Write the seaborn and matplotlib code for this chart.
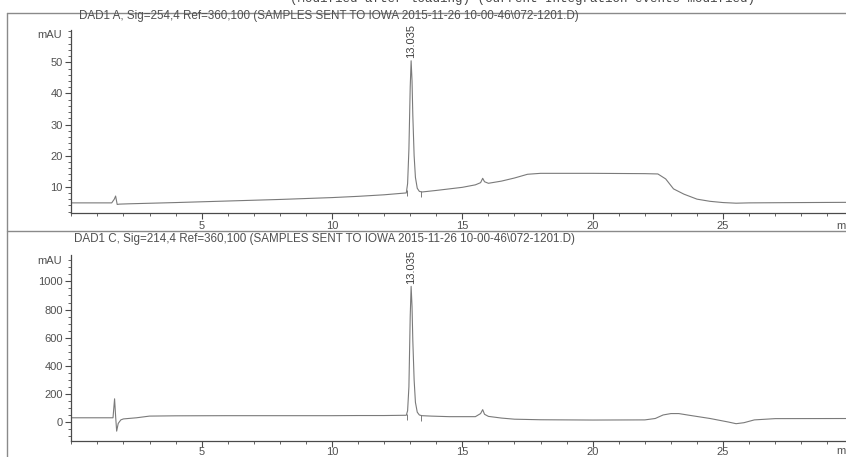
import numpy as np
import pandas as pd
import matplotlib
matplotlib.use("Agg")
import matplotlib.pyplot as plt
from matplotlib.lines import Line2D
from matplotlib.ticker import MultipleLocator
import seaborn as sns

# ---------------- data ----------------
header_text = "(Modified after loading) (Current Integration events modified)"
title_a = "DAD1 A, Sig=254,4 Ref=360,100 (SAMPLES SENT TO IOWA 2015-11-26 10-00-46\\072-1201.D)"
title_c = "DAD1 C, Sig=214,4 Ref=360,100 (SAMPLES SENT TO IOWA 2015-11-26 10-00-46\\072-1201.D)"
peak_label = "13.035"
peak_time = 13.035

x_tick_labels = [5, 10, 15, 20, 25]
y_ticks_a = [10, 20, 30, 40, 50]
y_ticks_c = [0, 200, 400, 600, 800, 1000]

time_a = [0, 1.55, 1.65, 1.70, 1.76, 1.85, 2.2, 4, 6, 8, 10, 11, 12, 12.85,
          12.9, 12.95, 13.0, 13.035, 13.07, 13.1, 13.15, 13.2, 13.27, 13.35, 13.45,
          14, 14.5, 15, 15.5, 15.7, 15.78, 15.85, 16.0, 16.5, 17, 17.5, 18, 20, 22,
          22.5, 22.8, 23.1, 23.5, 24, 24.5, 25, 25.5, 26, 28, 30.5]
signal_a = [4.8, 4.8, 6.0, 7.0, 4.3, 4.4, 4.5, 4.9, 5.4, 5.9, 6.5, 6.9, 7.4, 8.0,
            11, 22, 42, 50.5, 44, 33, 20, 13, 9.5, 8.5, 8.3,
            8.8, 9.3, 9.8, 10.6, 11.3, 12.7, 11.6, 11.1, 11.8, 12.8, 14.0, 14.3, 14.3, 14.2,
            14.1, 12.5, 9.3, 7.6, 6.0, 5.3, 4.9, 4.7, 4.8, 4.9, 5.0]

time_c = [0, 1.6, 1.66, 1.70, 1.74, 1.8, 1.9, 2.0, 2.5, 3.0, 4, 6, 8, 10, 11, 12,
          12.85, 12.9, 12.95, 13.0, 13.035, 13.07, 13.1, 13.15, 13.2, 13.27, 13.35, 13.45,
          13.8, 14.5, 15.5, 15.7, 15.78, 15.85, 16.0, 16.5, 17, 18, 20, 22,
          22.4, 22.7, 23.0, 23.3, 23.7, 24.5, 25.2, 25.5, 25.8, 26.2, 27, 30.5]
signal_c = [30, 30, 165, 40, -65, -10, 15, 22, 30, 42, 44, 45, 45, 45, 46, 46,
            48, 80, 250, 750, 965, 820, 580, 300, 140, 70, 50, 45,
            42, 38, 38, 60, 88, 55, 40, 28, 20, 16, 14, 15,
            25, 50, 60, 60, 48, 25, 0, -12, -5, 15, 24, 25]

integ_times = [12.86, 13.42]

# ---------------- styling ----------------
sns.set_theme(style="ticks")
plt.rcParams['font.family'] = ['Liberation Sans', 'DejaVu Sans']

W, H = 846, 457
fig = plt.figure(figsize=(W / 100, H / 100), dpi=100)
fig.patch.set_facecolor('white')

px_per_min = 26.07
x0_px = 71.3
xmax = 30.5
ax_w = xmax * px_per_min / W

line_col = '#7a7a7a'
axis_col = '#4a4a4a'
text_col = '#505050'


def make_panel(top_px, bot_px, ylim, time, sig, yticks, minor, title, title_x, title_y,
               label_top_frac, xpad):
    ax = fig.add_axes([x0_px / W, 1 - bot_px / H, ax_w, (bot_px - top_px) / H])
    df = pd.DataFrame({"t": time, "v": sig})
    sns.lineplot(data=df, x="t", y="v", ax=ax, color=line_col, lw=0.8,
                 estimator=None, sort=False)
    ax.set_xlim(0, xmax)
    ax.set_ylim(*ylim)
    ax.set_xlabel("")
    ax.set_ylabel("")
    for s in ("top", "right"):
        ax.spines[s].set_visible(False)
    for s in ("left", "bottom"):
        ax.spines[s].set_color(axis_col)
        ax.spines[s].set_linewidth(0.9)
    ax.xaxis.set_minor_locator(MultipleLocator(1))
    ax.yaxis.set_minor_locator(MultipleLocator(minor))
    ax.tick_params(axis='both', which='major', direction='out', length=4, width=0.8,
                   color=axis_col, labelcolor=text_col, labelsize=8, pad=2)
    ax.tick_params(axis='x', which='major', pad=xpad)
    ax.tick_params(axis='both', which='minor', direction='out', length=2.5, width=0.6,
                   color=axis_col)
    ax.set_xticks(x_tick_labels)
    ax.set_xticklabels([str(t) for t in x_tick_labels])
    ax.set_yticks(yticks)
    ax.set_yticklabels([str(v) for v in yticks])
    ax.patch.set_alpha(0)
    # mAU label at top of the axis
    ax.text(-0.012, label_top_frac, "mAU", transform=ax.transAxes, ha='right', va='center',
            fontsize=8, color=text_col)
    # integration markers
    iy = np.interp(integ_times, time, sig)
    off = (ylim[1] - ylim[0]) * 0.012
    ax.plot(integ_times, iy - off, ls='none', marker='|', ms=5, mew=0.7, color=line_col)
    # peak label above the apex
    ytop = np.interp(peak_time, time, sig)
    ax.annotate(peak_label, (peak_time, ytop), xytext=(0, 2), textcoords='offset points',
                rotation=90, ha='center', va='bottom', fontsize=8, color='#404040')
    fig.text(title_x / W, 1 - title_y / H, title, ha='left', va='center', fontsize=8.4,
             color=text_col)
    return ax


ax1 = make_panel(30, 212.7, (1.64, 60.4), time_a, signal_a, y_ticks_a, 2, title_a, 79, 16,
                 0.97, 2)
ax2 = make_panel(255, 440.7, (-133, 1188), time_c, signal_c, y_ticks_c, 50, title_c, 74, 239,
                 0.965, 0.8)

# "min" unit labels at right end of x axes (cut by figure edge)
fig.text(836 / W, 1 - 226 / H, "min", ha='left', va='center', fontsize=8, color=text_col)
fig.text(836 / W, 1 - 451 / H, "min", ha='left', va='center', fontsize=8, color=text_col)

# report frame lines
frame_col = '#8a8a8a'
fig.add_artist(Line2D([7 / W, 7 / W], [0, 1 - 13 / H], transform=fig.transFigure,
                      color=frame_col, lw=1.0))
fig.add_artist(Line2D([7 / W, 1], [1 - 13 / H, 1 - 13 / H], transform=fig.transFigure,
                      color=frame_col, lw=1.0))
fig.add_artist(Line2D([7 / W, 1], [1 - 231 / H, 1 - 231 / H], transform=fig.transFigure,
                      color=frame_col, lw=1.0))

# header line partially cut at top
fig.text(290 / W, 1 + 1.0 / H, header_text, ha='left', va='center', fontsize=9,
         family=['Liberation Mono', 'DejaVu Sans Mono'], color='#444444')

fig.savefig("out.png", dpi=100, facecolor='white')
